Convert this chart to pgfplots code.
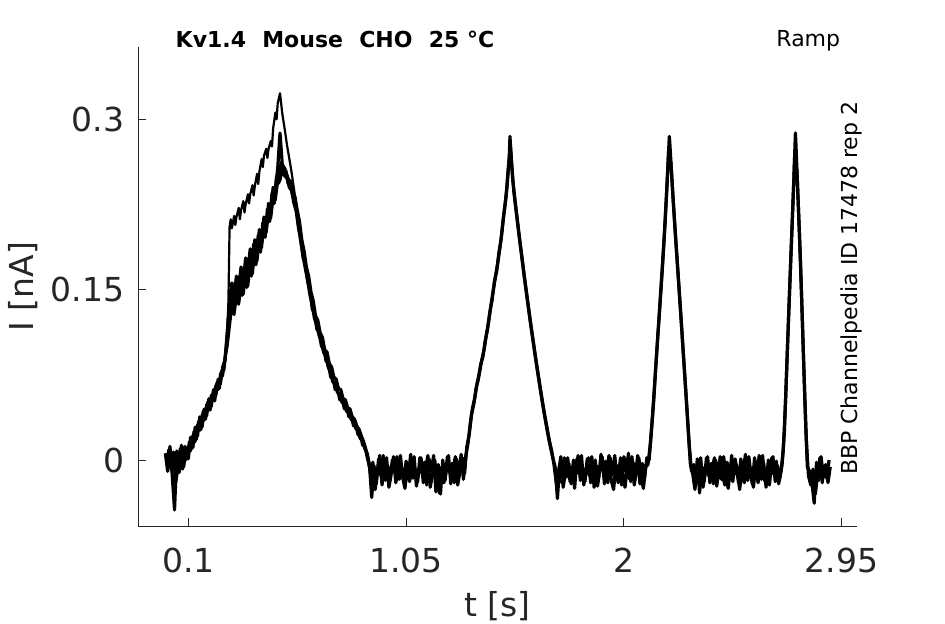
\documentclass[border=0pt]{standalone}
\usepackage{fontspec}
\setmainfont{DejaVu Sans}
\usepackage{pgfplots}
\pgfplotsset{compat=1.18}
\definecolor{axgray}{HTML}{262626}
\begin{document}
\begin{tikzpicture}
\path[use as bounding box] (0,0) rectangle (945bp,624bp);
\begin{axis}[
 at={(138.3bp,98bp)}, anchor=south west,
 scale only axis, width=718.4bp, height=479bp,
 xmin=-0.1181, xmax=3.0154, ymin=-0.0581, ymax=0.3637,
 axis x line*=bottom, axis y line*=left,
 axis line style={-, draw=axgray, line width=0.9bp},
 tick align=inside, major tick length=7.5bp,
 tick style={draw=axgray, line width=0.9bp},
 xtick={0.1,1.05,2,2.95}, xticklabels={0.1,1.05,2,2.95},
 ytick={0,0.15,0.3}, yticklabels={0,0.15,0.3},
 /pgf/number format/assume math mode=true,
 ticklabel style={font=\fontsize{33bp}{40bp}\selectfont, text=axgray, inner sep=0pt},
 xticklabel style={anchor=north, yshift=-22bp},
 yticklabel style={anchor=east, xshift=-14bp},
 xlabel={t [s]}, ylabel={I [nA]},
 label style={font=\fontsize{33bp}{40bp}\selectfont, text=axgray, inner sep=0pt},
 xlabel style={at={(axis description cs:0.5,-0.18789)}, anchor=base},
 ylabel style={at={(axis description cs:-0.14616,0.5)}, anchor=base},
]
% repetition 1
\addplot[black, line width=3.2bp, line join=round] coordinates {
(0.00,0.006)(0.01,-0.010)(0.02,0.012)(0.03,-0.014)(0.04,-0.044)(0.05,0.008)(0.06,-0.011)(0.07,0.013)(0.08,-0.006)(0.09,0.011)
(0.10,0.001)(0.11,0.020)(0.12,0.011)(0.13,0.029)(0.14,0.021)(0.15,0.038)(0.16,0.029)(0.17,0.045)(0.18,0.039)(0.19,0.054)
(0.20,0.047)(0.21,0.062)(0.22,0.057)(0.23,0.071)(0.24,0.067)(0.25,0.082)(0.26,0.088)(0.27,0.112)(0.28,0.140)(0.29,0.156)
(0.30,0.145)(0.31,0.162)(0.32,0.150)(0.33,0.170)(0.34,0.157)(0.35,0.178)(0.36,0.166)(0.37,0.186)(0.38,0.175)(0.39,0.194)
(0.40,0.184)(0.41,0.203)(0.42,0.193)(0.43,0.214)(0.44,0.205)(0.45,0.226)(0.46,0.220)(0.47,0.240)(0.48,0.238)(0.49,0.257)
(0.50,0.288)(0.51,0.260)(0.52,0.257)(0.53,0.251)(0.54,0.245)(0.55,0.239)(0.56,0.231)(0.57,0.222)(0.58,0.208)(0.59,0.193)
(0.60,0.181)(0.61,0.169)(0.62,0.159)(0.63,0.146)(0.64,0.137)(0.65,0.125)(0.66,0.119)(0.67,0.110)(0.68,0.104)(0.69,0.095)
(0.70,0.091)(0.71,0.082)(0.72,0.077)(0.73,0.069)(0.74,0.067)(0.75,0.060)(0.76,0.057)(0.77,0.051)(0.78,0.049)(0.79,0.043)
(0.80,0.042)(0.81,0.036)(0.82,0.034)(0.83,0.028)(0.84,0.026)(0.85,0.019)(0.86,0.017)(0.87,0.010)(0.88,0.006)(0.89,-0.004)
(0.90,-0.033)(0.91,-0.005)(0.92,-0.021)(0.93,0.001)(0.94,-0.014)(0.95,0.004)(0.96,-0.018)(0.97,-0.005)(0.98,-0.018)(0.99,0.000)
(1.00,-0.011)(1.01,0.003)(1.02,-0.017)(1.03,-0.006)(1.04,-0.020)(1.05,-0.001)(1.06,-0.013)(1.07,0.005)(1.08,-0.016)(1.09,-0.008)
(1.10,-0.019)(1.11,0.002)(1.12,-0.012)(1.13,-0.002)(1.14,-0.022)(1.15,0.001)(1.16,-0.010)(1.17,0.004)(1.18,-0.028)(1.19,-0.004)
(1.20,-0.030)(1.21,0.000)(1.22,-0.018)(1.23,0.003)(1.24,-0.011)(1.25,-0.003)(1.26,-0.020)(1.27,0.001)(1.28,-0.014)(1.29,0.005)
(1.30,-0.017)(1.31,0.003)(1.32,0.015)(1.33,0.032)(1.34,0.046)(1.35,0.055)(1.36,0.068)(1.37,0.077)(1.38,0.088)(1.39,0.097)
(1.40,0.110)(1.41,0.122)(1.42,0.136)(1.43,0.149)(1.44,0.162)(1.45,0.174)(1.46,0.188)(1.47,0.205)(1.48,0.222)(1.49,0.240)
(1.50,0.268)(1.503,0.285)(1.51,0.262)(1.52,0.236)(1.53,0.219)(1.54,0.202)(1.55,0.186)(1.56,0.170)(1.57,0.154)(1.58,0.139)
(1.59,0.124)(1.60,0.110)(1.61,0.096)(1.62,0.082)(1.63,0.069)(1.64,0.056)(1.65,0.044)(1.66,0.032)(1.67,0.021)(1.68,0.011)
(1.69,0.002)(1.70,-0.006)(1.71,-0.034)(1.72,-0.004)(1.73,-0.020)(1.74,0.002)(1.75,-0.015)(1.76,-0.003)(1.77,-0.021)(1.78,0.000)
(1.79,-0.012)(1.80,0.004)(1.81,-0.018)(1.82,-0.007)(1.83,-0.019)(1.84,0.001)(1.85,-0.014)(1.86,0.003)(1.87,-0.024)(1.88,-0.005)
(1.89,-0.016)(1.90,0.005)(1.91,-0.011)(1.92,-0.001)(1.93,-0.020)(1.94,0.002)(1.95,-0.013)(1.96,0.004)(1.97,-0.017)(1.98,-0.004)
(1.99,-0.022)(2.00,0.003)(2.01,-0.010)(2.02,0.006)(2.03,-0.019)(2.04,-0.002)(2.05,-0.015)(2.06,0.004)(2.07,-0.021)(2.08,-0.003)
(2.09,-0.016)(2.10,0.002)(2.11,0.000)(2.12,0.025)(2.13,0.052)(2.14,0.085)(2.15,0.115)(2.16,0.145)(2.17,0.176)(2.18,0.210)
(2.19,0.250)(2.198,0.285)(2.20,0.280)(2.21,0.245)(2.22,0.212)(2.23,0.182)(2.24,0.152)(2.25,0.122)(2.26,0.091)(2.27,0.060)
(2.28,0.028)(2.29,-0.004)(2.30,-0.012)(2.31,-0.026)(2.32,0.001)(2.33,-0.029)(2.34,-0.006)(2.35,-0.019)(2.36,0.002)(2.37,-0.014)
(2.38,-0.003)(2.39,-0.021)(2.40,0.000)(2.41,-0.016)(2.42,0.003)(2.43,-0.012)(2.44,-0.022)(2.45,-0.002)(2.46,-0.017)(2.47,0.004)
(2.48,-0.013)(2.49,-0.004)(2.50,-0.020)(2.51,0.001)(2.52,-0.011)(2.53,0.005)(2.54,-0.018)(2.55,-0.006)(2.56,-0.021)(2.57,0.002)
(2.58,-0.014)(2.59,0.004)(2.60,-0.017)(2.61,-0.003)(2.62,-0.024)(2.63,0.000)(2.64,-0.012)(2.65,0.003)(2.66,-0.019)(2.67,-0.005)
(2.68,-0.016)(2.69,-0.004)(2.70,0.025)(2.71,0.080)(2.72,0.135)(2.73,0.188)(2.74,0.240)(2.748,0.288)(2.75,0.280)(2.76,0.228)
(2.77,0.176)(2.78,0.112)(2.79,0.048)(2.80,-0.006)(2.81,-0.010)(2.82,-0.020)(2.83,-0.038)(2.84,-0.002)(2.85,-0.018)(2.86,0.003)
(2.87,-0.015)(2.88,-0.004)(2.89,-0.020)(2.90,-0.006)
};
% repetition 2
\addplot[black, line width=3.2bp, line join=round] coordinates {
(0.005,-0.004)(0.015,0.009)(0.025,-0.008)(0.035,0.007)(0.045,-0.020)(0.055,-0.006)(0.065,0.010)(0.075,-0.008)(0.085,0.012)
(0.095,0.002)(0.105,0.016)(0.115,0.010)(0.125,0.025)(0.135,0.018)(0.145,0.034)(0.155,0.027)(0.165,0.043)(0.175,0.036)(0.185,0.051)
(0.195,0.044)(0.205,0.058)(0.215,0.052)(0.225,0.068)(0.235,0.063)(0.245,0.078)(0.255,0.079)(0.265,0.098)
(0.275,0.125)(0.285,0.150)(0.295,0.134)(0.305,0.156)(0.315,0.138)(0.325,0.162)(0.335,0.145)(0.345,0.170)(0.355,0.152)(0.365,0.177)
(0.375,0.162)(0.385,0.190)(0.395,0.172)(0.405,0.198)(0.415,0.183)(0.425,0.209)(0.435,0.196)(0.445,0.221)(0.455,0.210)(0.465,0.235)
(0.475,0.226)(0.485,0.250)(0.495,0.244)(0.505,0.262)(0.515,0.252)(0.525,0.255)(0.535,0.244)(0.545,0.246)(0.555,0.233)
(0.565,0.232)(0.575,0.220)(0.585,0.210)(0.595,0.194)(0.605,0.184)(0.615,0.170)(0.625,0.162)(0.635,0.148)(0.645,0.140)(0.655,0.127)
(0.665,0.123)(0.675,0.112)(0.685,0.108)(0.695,0.097)(0.705,0.095)(0.715,0.085)(0.725,0.082)(0.735,0.073)(0.745,0.071)(0.755,0.063)
(0.765,0.062)(0.775,0.054)(0.785,0.053)(0.795,0.046)(0.805,0.045)(0.815,0.038)(0.825,0.036)(0.835,0.030)(0.845,0.027)(0.855,0.021)
(0.865,0.016)(0.875,0.009)(0.885,0.000)
(0.895,-0.012)(0.905,-0.002)(0.915,-0.026)(0.925,-0.010)(0.935,0.004)(0.945,-0.022)(0.955,-0.008)(0.965,0.002)(0.975,-0.024)(0.985,-0.012)
(0.995,0.003)(1.005,-0.020)(1.015,-0.009)(1.025,0.004)(1.035,-0.015)(1.045,-0.025)(1.055,-0.004)(1.065,-0.019)(1.075,-0.007)(1.085,0.003)
(1.095,-0.023)(1.105,-0.011)(1.115,0.002)(1.125,-0.020)(1.135,-0.008)(1.145,0.004)(1.155,-0.024)(1.165,-0.013)(1.175,0.000)(1.185,-0.018)
(1.195,-0.029)(1.205,-0.006)(1.215,-0.020)(1.225,-0.010)(1.235,0.004)(1.245,-0.021)(1.255,-0.008)(1.265,0.003)(1.275,-0.022)(1.285,-0.010)
(1.295,0.002)(1.305,-0.012)
(1.315,0.012)(1.325,0.022)(1.335,0.040)(1.345,0.049)(1.355,0.063)(1.365,0.071)(1.375,0.084)(1.385,0.091)(1.395,0.105)(1.405,0.115)
(1.415,0.130)(1.425,0.141)(1.435,0.157)(1.445,0.166)(1.455,0.183)(1.465,0.195)(1.475,0.215)(1.485,0.230)(1.495,0.255)(1.505,0.276)
(1.515,0.247)(1.525,0.229)(1.535,0.212)(1.545,0.195)(1.555,0.179)(1.565,0.163)(1.575,0.148)(1.585,0.133)(1.595,0.118)(1.605,0.104)
(1.615,0.090)(1.625,0.077)(1.635,0.064)(1.645,0.051)(1.655,0.039)(1.665,0.028)(1.675,0.017)(1.685,0.008)(1.695,-0.004)
(1.705,-0.020)(1.715,-0.010)(1.725,0.003)(1.735,-0.024)(1.745,-0.011)(1.755,0.002)(1.765,-0.019)(1.775,-0.006)(1.785,-0.025)(1.795,0.001)
(1.805,-0.012)(1.815,0.004)(1.825,-0.022)(1.835,-0.009)(1.845,0.002)(1.855,-0.020)(1.865,-0.011)(1.875,0.000)(1.885,-0.023)(1.895,-0.008)
(1.905,0.003)(1.915,-0.021)(1.925,-0.010)(1.935,0.004)(1.945,-0.018)(1.955,-0.026)(1.965,-0.005)(1.975,-0.020)(1.985,0.002)(1.995,-0.012)
(2.005,-0.024)(2.015,-0.004)(2.025,-0.017)(2.035,0.003)(2.045,-0.022)(2.055,-0.009)(2.065,0.002)(2.075,-0.015)(2.085,-0.025)(2.095,-0.006)
(2.105,-0.004)
(2.115,0.014)(2.125,0.040)(2.135,0.070)(2.145,0.101)(2.155,0.131)(2.165,0.162)(2.175,0.194)(2.185,0.231)(2.195,0.272)(2.205,0.262)
(2.215,0.229)(2.225,0.198)(2.235,0.168)(2.245,0.138)(2.255,0.107)(2.265,0.076)(2.275,0.045)(2.285,0.013)(2.295,-0.010)
(2.305,-0.004)(2.315,-0.018)(2.325,-0.009)(2.335,0.002)(2.345,-0.024)(2.355,-0.011)(2.365,0.003)(2.375,-0.020)(2.385,-0.008)(2.395,0.002)
(2.405,-0.023)(2.415,-0.006)(2.425,-0.017)(2.435,0.003)(2.445,-0.013)(2.455,-0.025)(2.465,-0.006)(2.475,-0.019)(2.485,0.001)(2.495,-0.011)
(2.505,-0.026)(2.515,-0.007)(2.525,-0.020)(2.535,-0.009)(2.545,0.003)(2.555,-0.015)(2.565,-0.024)(2.575,-0.005)(2.585,-0.020)(2.595,-0.010)
(2.605,0.004)(2.615,-0.019)(2.625,-0.008)(2.635,-0.022)(2.645,0.002)(2.655,-0.013)(2.665,-0.001)(2.675,-0.021)(2.685,-0.010)
(2.695,0.008)(2.705,0.052)(2.715,0.108)(2.725,0.162)(2.735,0.214)(2.745,0.268)(2.755,0.254)(2.765,0.202)(2.775,0.144)(2.785,0.080)
(2.795,0.020)(2.805,-0.014)
(2.815,-0.022)(2.825,-0.008)(2.835,-0.030)(2.845,-0.012)(2.855,0.002)(2.865,-0.020)(2.875,-0.006)(2.885,-0.016)(2.895,0.000)
};
% repetition 3, lower envelope of first peak
\addplot[black, line width=2.8bp, line join=round] coordinates {
(0.08,0.004)(0.09,0.000)(0.10,0.012)(0.11,0.008)(0.12,0.022)(0.13,0.016)(0.14,0.031)(0.15,0.026)(0.16,0.040)(0.17,0.035)
(0.18,0.049)(0.19,0.044)(0.20,0.057)(0.21,0.053)(0.22,0.066)(0.23,0.062)(0.24,0.076)(0.25,0.074)(0.26,0.090)(0.27,0.100)
(0.28,0.118)(0.29,0.135)(0.30,0.128)(0.31,0.144)(0.32,0.137)(0.33,0.152)(0.34,0.146)(0.35,0.162)(0.36,0.153)(0.37,0.172)
(0.38,0.164)(0.39,0.182)(0.40,0.175)(0.41,0.193)(0.42,0.187)(0.43,0.205)(0.44,0.200)(0.45,0.217)(0.46,0.213)(0.47,0.230)
(0.48,0.229)(0.49,0.245)(0.50,0.246)(0.51,0.255)(0.52,0.250)(0.53,0.248)(0.54,0.240)(0.55,0.237)(0.56,0.226)(0.57,0.219)
(0.58,0.204)(0.59,0.194)(0.60,0.178)(0.61,0.172)(0.62,0.157)(0.63,0.150)(0.64,0.133)(0.65,0.129)(0.66,0.115)(0.67,0.113)
(0.68,0.100)(0.69,0.099)(0.70,0.087)(0.71,0.086)(0.72,0.073)(0.73,0.072)(0.74,0.062)(0.75,0.063)(0.76,0.053)(0.77,0.054)
(0.78,0.045)(0.79,0.046)(0.80,0.038)(0.81,0.039)(0.82,0.030)(0.83,0.031)(0.84,0.022)(0.85,0.022)(0.86,0.013)(0.87,0.012)
(0.88,0.002)(0.89,-0.006)(0.90,-0.015)
};
% repetition with the jump
\addplot[black, line width=2.2bp, line join=round] coordinates {
(0.26,0.086)(0.27,0.110)(0.275,0.140)(0.28,0.205)(0.285,0.212)(0.29,0.204)(0.30,0.215)(0.305,0.207)(0.31,0.214)(0.32,0.222)
(0.325,0.212)(0.33,0.220)(0.34,0.228)(0.345,0.218)(0.35,0.225)(0.36,0.234)(0.365,0.226)(0.37,0.234)(0.38,0.242)(0.385,0.233)
(0.39,0.241)(0.40,0.252)(0.405,0.243)(0.41,0.254)(0.42,0.265)(0.425,0.258)(0.43,0.268)(0.44,0.274)(0.445,0.266)(0.45,0.274)
(0.46,0.281)(0.465,0.276)(0.47,0.292)(0.48,0.306)(0.485,0.300)(0.49,0.314)(0.50,0.323)(0.51,0.305)(0.52,0.292)(0.53,0.278)
(0.54,0.266)(0.55,0.254)(0.56,0.240)(0.57,0.226)
};
\end{axis}
\node[anchor=base west, inner sep=0pt, font=\fontsize{22bp}{26bp}\selectfont\bfseries] at (175.5bp,576.7bp) {Kv1.4\hspace{16.3bp}Mouse\hspace{16.3bp}CHO\hspace{16.3bp}25 °C};
\node[anchor=base east, inner sep=0pt, font=\fontsize{22bp}{26bp}\selectfont] at (840.3bp,577.5bp) {Ramp};
\node[rotate=90, anchor=base west, inner sep=0pt, font=\fontsize{22bp}{26bp}\selectfont] at (857.7bp,149bp) {BBP Channelpedia ID 17478 rep 2};
\end{tikzpicture}
\end{document}
